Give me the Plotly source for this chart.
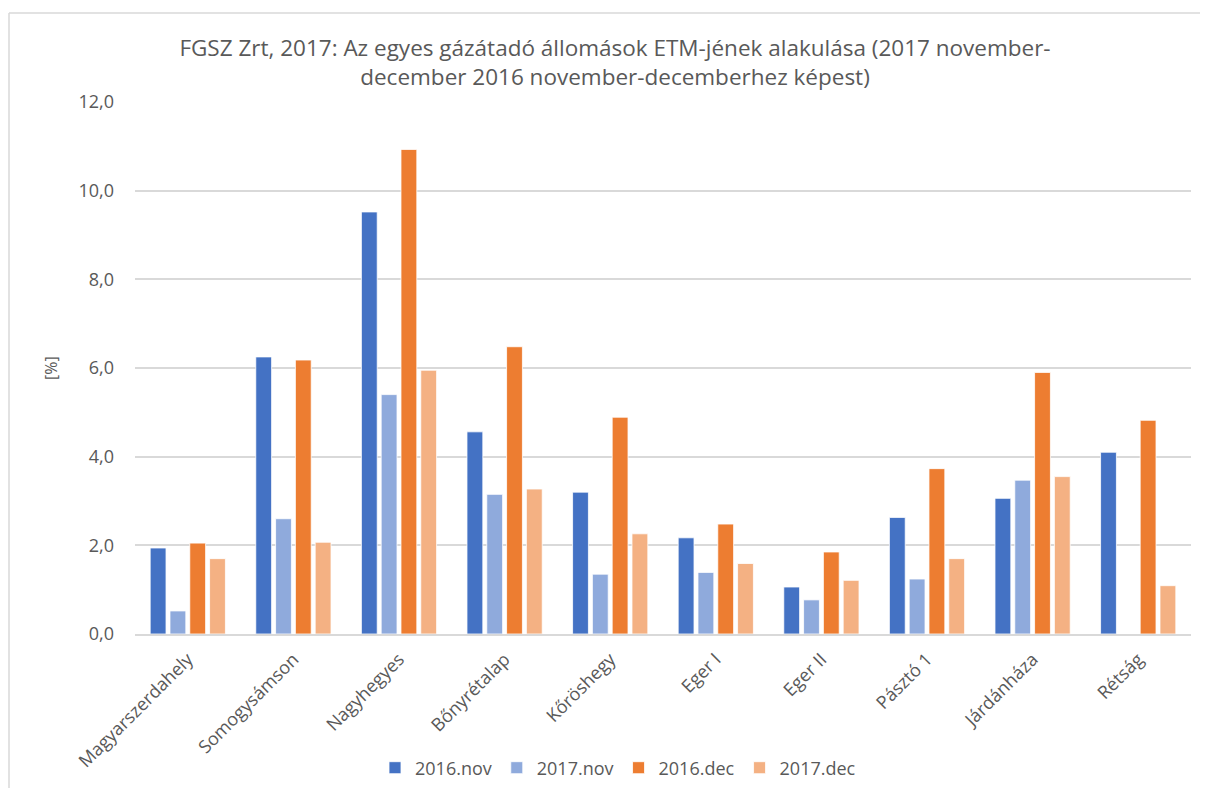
import plotly.graph_objects as go

categories = ["Magyarszerdahely", "Somogysámson", "Nagyhegyes", "Bőnyrétalap", "Kőröshegy",
              "Eger I", "Eger II", "Pásztó 1", "Járdánháza", "Rétság"]
nov_2016 = [1.94, 6.25, 9.52, 4.56, 3.20, 2.17, 1.06, 2.63, 3.06, 4.10]
nov_2017 = [0.52, 2.60, 5.40, 3.15, 1.35, 1.39, 0.77, 1.24, 3.47, None]
dec_2016 = [2.05, 6.18, 10.93, 6.48, 4.89, 2.48, 1.85, 3.73, 5.90, 4.82]
dec_2017 = [1.70, 2.07, 5.95, 3.27, 2.26, 1.59, 1.21, 1.70, 3.55, 1.09]

series = [
    ("2016.nov", nov_2016, "#4472C4"),
    ("2017.nov", nov_2017, "#8FAADC"),
    ("2016.dec", dec_2016, "#ED7D31"),
    ("2017.dec", dec_2017, "#F4B183"),
]

FONT = "Open Sans"
GRAY = "#595959"

fig = go.Figure()
for name, vals, col in series:
    fig.add_trace(go.Bar(
        x=categories, y=vals, name=name,
        marker=dict(color=col, line=dict(color="white", width=0.8)),
    ))

# page offset of the figure inside the browser page (body margin)
OFF = 8
W, H = 1208 - 2 * OFF, 796 - 2 * OFF
# plot area in reference-image pixels
PX0, PX1, PY0, PY1 = 135, 1191, 102, 634
L = PX0 - OFF
R = W - (PX1 - OFF)
T = PY0 - OFF
B = H - (PY1 - OFF)
pw = PX1 - PX0
ph = PY1 - PY0

def px_x(p):
    return (p - PX0) / pw

def px_y(p):
    return (PY1 - p) / ph

BORDER = "#d9d9d9"

fig.update_layout(
    width=W, height=H,
    margin=dict(l=L, r=R, t=T, b=B, autoexpand=False),
    paper_bgcolor="white", plot_bgcolor="white",
    separators=", ",
    font=dict(family=FONT, color=GRAY, size=18),
    title=dict(
        text="FGSZ Zrt, 2017: Az egyes gázátadó állomások ETM-jének alakulása (2017 november-<br>december 2016 november-decemberhez képest)",
        x=(615 - OFF) / W, xanchor="center", xref="container",
        y=1 - (56 - OFF) / H, yanchor="top", yref="container",
        font=dict(family=FONT, size=22.5, color=GRAY),
    ),
    barmode="group", bargap=0.25, bargroupgap=0.2,
    showlegend=True,
    legend=dict(
        orientation="h", x=px_x(618), xanchor="center",
        y=px_y(768), yanchor="middle",
        font=dict(family=FONT, size=18, color=GRAY),
        itemwidth=30, traceorder="normal",
    ),
    xaxis=dict(
        tickangle=-45, showline=True, linecolor=BORDER, linewidth=1.5,
        showgrid=False, ticks="", ticklabelstandoff=6,
        tickfont=dict(family=FONT, size=18, color=GRAY),
    ),
    yaxis=dict(
        range=[0, 12], dtick=2, tickformat=".1f",
        showgrid=True, gridcolor=BORDER, gridwidth=1.5,
        zeroline=False, showline=False, ticks="", ticklabelstandoff=20,
        tickfont=dict(family=FONT, size=18, color=GRAY),
    ),
    annotations=[dict(
        text="[%]", xref="paper", yref="paper", x=px_x(51), y=px_y(368),
        xanchor="center", yanchor="middle", textangle=-90, showarrow=False,
        font=dict(family=FONT, size=16, color=GRAY),
    )],
    shapes=[
        dict(type="line", xref="paper", yref="paper",
             x0=px_x(9), x1=px_x(1208), y0=px_y(13), y1=px_y(13),
             line=dict(color=BORDER, width=1.5), layer="below"),
        dict(type="line", xref="paper", yref="paper",
             x0=px_x(9), x1=px_x(9), y0=px_y(13), y1=px_y(800),
             line=dict(color=BORDER, width=1.5), layer="below"),
    ],
)

fig.write_html("out.html")
